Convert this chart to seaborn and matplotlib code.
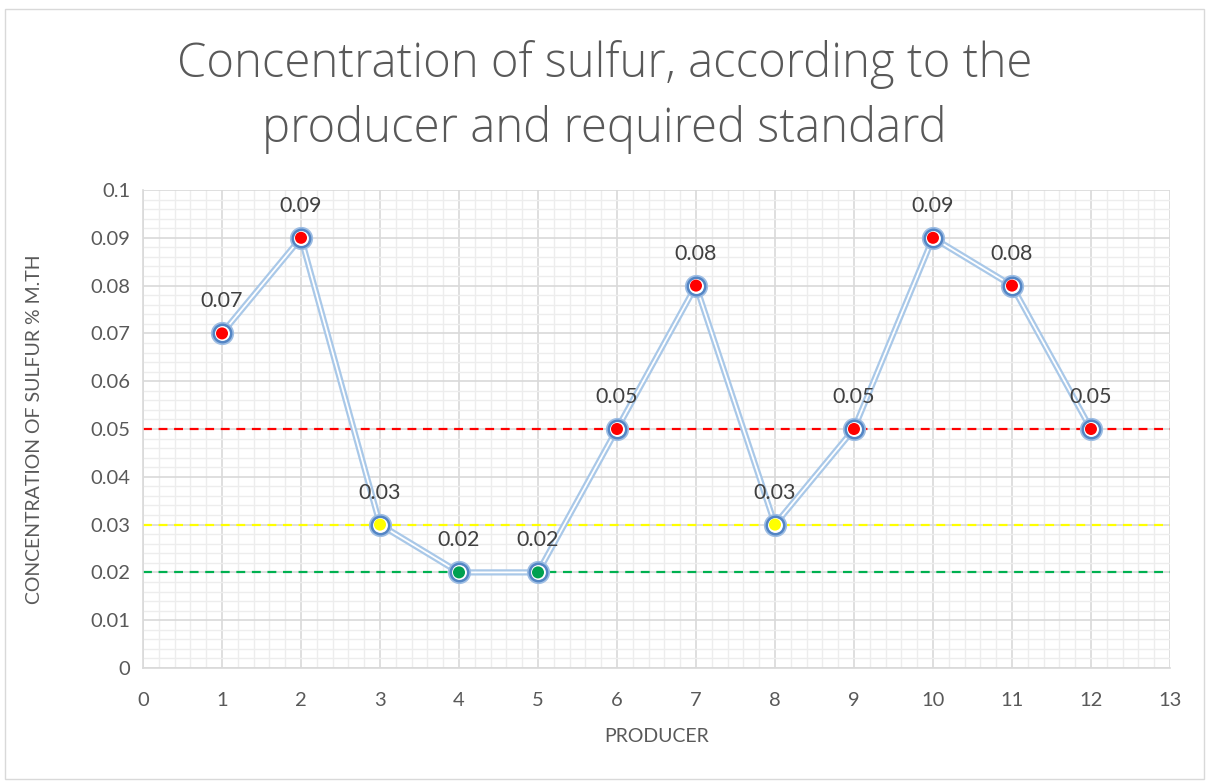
import matplotlib
matplotlib.use("Agg")
import matplotlib.pyplot as plt
from matplotlib.ticker import MultipleLocator
import seaborn as sns
import pandas as pd

producers = [1, 2, 3, 4, 5, 6, 7, 8, 9, 10, 11, 12]
sulfur = [0.07, 0.09, 0.03, 0.02, 0.02, 0.05, 0.08, 0.03, 0.05, 0.09, 0.08, 0.05]
limits = [0.05, 0.03, 0.02]
limit_colors = ["#FF0000", "#FFFF00", "#00B050"]
point_colors = {"high": "#FF0000", "mid": "#FFFF00", "low": "#00A050"}

def level(v):
    if v <= 0.02:
        return "low"
    if v <= 0.03:
        return "mid"
    return "high"

df = pd.DataFrame({"producer": producers, "sulfur": sulfur})
df["level"] = [level(v) for v in sulfur]

sns.set_theme(style="white")
plt.rcParams["font.family"] = ["Lato", "DejaVu Sans"]

fig = plt.figure(figsize=(12.09, 7.81), dpi=100)
ax = fig.add_axes([0.1183, 0.1447, 0.8494, 0.612])

ax.set_xlim(0, 13)
ax.set_ylim(0, 0.1)
ax.xaxis.set_major_locator(MultipleLocator(1))
ax.xaxis.set_minor_locator(MultipleLocator(0.2))
ax.yaxis.set_major_locator(MultipleLocator(0.01))
ax.yaxis.set_minor_locator(MultipleLocator(0.002))
ax.grid(which="major", color="#D9D9D9", linewidth=1.2)
ax.grid(which="minor", color="#EDEDED", linewidth=1.0)
ax.set_axisbelow(True)
for s in ["top", "right"]:
    ax.spines[s].set_visible(False)
for s in ["left", "bottom"]:
    ax.spines[s].set_color("#D9D9D9")
    ax.spines[s].set_linewidth(1.2)

# limit lines
for y, c in zip(limits, limit_colors):
    ax.axhline(y, color=c, linestyle=(0, (4, 3)), linewidth=1.6, zorder=2)

# double connecting line
sns.lineplot(data=df, x="producer", y="sulfur", ax=ax, color="#A9C8E8",
             linewidth=4.5, zorder=3, legend=False)
sns.lineplot(data=df, x="producer", y="sulfur", ax=ax, color="white",
             linewidth=1.3, zorder=3.1, legend=False)

# markers: blue ring, white ring, coloured centre
sns.scatterplot(data=df, x="producer", y="sulfur", ax=ax, s=240,
                color="#5385C4", edgecolor="#9DBDE3", linewidth=1.2, zorder=4, legend=False)
sns.scatterplot(data=df, x="producer", y="sulfur", ax=ax, s=115,
                color="white", linewidth=0, zorder=4.1, legend=False)
sns.scatterplot(data=df, x="producer", y="sulfur", ax=ax, s=75,
                hue="level", palette=point_colors, linewidth=0, zorder=4.2, legend=False)

for xv, yv in zip(producers, sulfur):
    ax.annotate(f"{yv:.2f}", (xv, yv), xytext=(0, 23), textcoords="offset points",
                ha="center", va="center", fontsize=15.5, color="#404040", zorder=5)

ax.tick_params(axis="both", which="both", length=0, labelsize=14.5,
               labelcolor="#595959")
ax.tick_params(axis="x", pad=17)
ax.tick_params(axis="y", pad=9)
ax.set_yticks([i / 100 for i in range(11)])
ax.set_yticklabels(["0"] + [f"{i/100:g}" for i in range(1, 11)])
ax.set_xlabel("PRODUCER", fontsize=14, color="#595959", labelpad=14)
ax.set_ylabel("CONCENTRATION OF SULFUR % M.TH", fontsize=14, color="#595959", labelpad=34)

fig.text(0.5, 0.876, "Concentration of sulfur, according to the\nproducer and required standard",
         ha="center", va="center", fontsize=34, color="#595959",
         family=["Open Sans", "DejaVu Sans"], fontweight="light", linespacing=1.42)

# chart frame
frame = plt.Rectangle((0.004, 0.002), 0.992, 0.986, transform=fig.transFigure,
                      fill=False, edgecolor="#D9D9D9", linewidth=1)
fig.patches.append(frame)

fig.savefig("out.png", dpi=100)
